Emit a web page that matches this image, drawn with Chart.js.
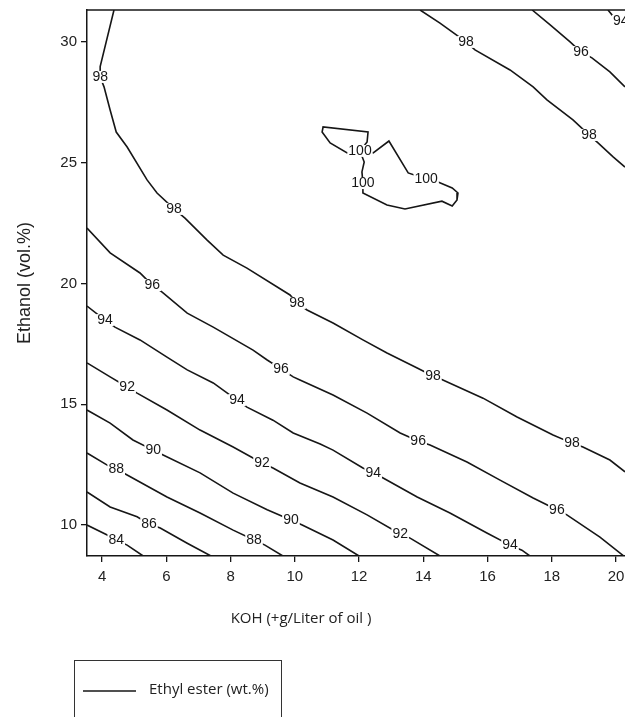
<!DOCTYPE html>
<html>
<head>
<meta charset="utf-8">
<script src="https://cdn.jsdelivr.net/npm/chart.js@4.4.0/dist/chart.umd.min.js"></script>
<style>
  html, body { margin: 0; padding: 0; background: #fff; }
  #wrap { width: 625px; height: 717px; }
</style>
</head>
<body>
<div id="wrap"><canvas id="chart" width="625" height="717"></canvas></div>
<script>
// Response surface: ethyl ester yield vs KOH and ethanol
// Each contour is a list of [KOH g/L, ethanol vol.%] points
const seriesName = "Ethyl ester (wt.%)";
const kohTicks = [4, 6, 8, 10, 12, 14, 16, 18, 20];
const ethanolTicks = [10, 15, 20, 25, 30];

const line84 = [[3.53, 10.00], [4.16, 9.59], [4.44, 9.38], [4.78, 9.17], [5.28, 8.72]];
const tags84 = [[4.44, 9.38]];

const line86 = [[3.53, 11.37], [4.25, 10.75], [5.09, 10.34], [5.46, 10.04], [5.81, 9.88], [6.65, 9.25], [7.39, 8.72]];
const tags86 = [[5.46, 10.04]];

const line88 = [[3.53, 12.98], [4.16, 12.48], [4.44, 12.32], [4.78, 12.07], [6.02, 11.16], [7.05, 10.50],
  [8.08, 9.79], [8.73, 9.38], [9.07, 9.17], [9.63, 8.72]];
const tags88 = [[4.44, 12.32], [8.73, 9.38]];

const line90 = [[3.53, 14.76], [4.25, 14.22], [4.96, 13.52], [5.59, 13.10], [5.90, 12.90], [7.05, 12.16],
  [8.08, 11.32], [9.14, 10.63], [9.88, 10.21], [10.23, 10.00], [11.19, 9.38], [12.00, 8.72]];
const tags90 = [[5.59, 13.10], [9.88, 10.21]];

const line92 = [[3.53, 16.71], [4.25, 16.13], [4.78, 15.71], [5.09, 15.46], [6.02, 14.76], [7.05, 13.93],
  [8.08, 13.23], [8.98, 12.57], [9.32, 12.36], [10.16, 11.74], [11.19, 11.16], [12.25, 10.42],
  [13.28, 9.63], [13.59, 9.46], [14.52, 8.72]];
const tags92 = [[4.78, 15.71], [8.98, 12.57], [13.28, 9.63]];

const line94 = [[3.53, 19.06], [4.09, 18.48], [4.40, 18.19], [5.18, 17.66], [6.02, 16.95], [6.65, 16.42],
  [7.46, 15.88], [8.20, 15.17], [8.51, 14.88], [9.32, 14.34], [9.95, 13.81], [10.79, 13.35],
  [11.19, 13.10], [12.12, 12.36], [12.44, 12.16], [12.75, 11.95], [13.81, 11.16], [14.83, 10.50],
  [15.98, 9.67], [16.70, 9.17], [17.07, 8.96], [17.32, 8.72]];
const tags94 = [[4.09, 18.48], [8.20, 15.17], [12.44, 12.16], [16.70, 9.17]];

const line96 = [[3.53, 22.29], [4.25, 21.26], [5.18, 20.43], [5.56, 19.93], [5.87, 19.64], [6.65, 18.77],
  [7.46, 18.19], [8.70, 17.24], [9.14, 16.83], [9.57, 16.46], [9.95, 16.13], [10.16, 16.00],
  [11.19, 15.38], [12.25, 14.63], [13.28, 13.81], [13.84, 13.48], [14.21, 13.31], [15.36, 12.61],
  [16.39, 11.86], [17.42, 11.12], [18.16, 10.63], [18.47, 10.42], [19.50, 9.50], [20.28, 8.68]];
const tags96 = [[5.56, 19.93], [9.57, 16.46], [13.84, 13.48], [18.16, 10.63]];

const line98 = [[4.37, 31.31], [3.94, 28.97], [3.94, 28.54], [4.06, 28.13], [4.25, 27.17], [4.44, 26.26],
  [4.78, 25.64], [5.40, 24.28], [5.71, 23.74], [6.24, 23.08], [6.58, 22.70], [7.27, 21.79],
  [7.77, 21.17], [8.51, 20.63], [9.85, 19.52], [10.07, 19.19], [10.38, 18.90], [11.19, 18.36],
  [12.12, 17.66], [12.87, 17.12], [13.81, 16.50], [14.30, 16.17], [14.61, 16.00], [15.86, 15.25],
  [16.92, 14.47], [18.04, 13.73], [18.63, 13.39], [18.97, 13.23], [19.81, 12.69], [20.28, 12.20]];
const tags98 = [[3.94, 28.54], [6.24, 23.08], [10.07, 19.19], [14.30, 16.17], [18.63, 13.39]];

// second branch of the 98, 96 and 94 levels, upper right corner
const line98b = [[13.90, 31.31], [14.52, 30.77], [15.33, 29.99], [15.61, 29.66], [16.70, 28.83],
  [17.42, 28.13], [17.85, 27.59], [18.66, 26.76], [19.16, 26.14], [19.44, 25.81], [19.91, 25.23], [20.28, 24.81]];
const tags98b = [[15.33, 29.99], [19.16, 26.14]];

const line96b = [[17.39, 31.31], [17.95, 30.69], [18.57, 29.99], [18.91, 29.57], [19.25, 29.33],
  [19.81, 28.75], [20.28, 28.13]];
const tags96b = [[18.91, 29.57]];

const line94b = [[19.75, 31.31], [19.88, 31.10], [20.15, 30.86], [20.40, 30.50]];
const tags94b = [[20.15, 30.86]];

// closed 100 region
const line100 = [[12.03, 25.48], [12.25, 25.85], [12.28, 26.26], [10.88, 26.47], [10.85, 26.26],
  [11.10, 25.81], [11.63, 25.40], [12.03, 25.48], [12.44, 25.40], [12.93, 25.89], [13.53, 24.57],
  [14.09, 24.32], [14.46, 24.19], [14.90, 23.95], [15.08, 23.74], [15.05, 23.45], [14.90, 23.20],
  [14.58, 23.40], [13.43, 23.08], [12.87, 23.24], [12.12, 23.74], [12.12, 24.15], [12.09, 24.61],
  [12.16, 25.02], [12.03, 25.48]];
const tags100 = [[12.03, 25.48], [14.09, 24.32], [12.12, 24.15]];

const contours = [
  { level: 84, pts: line84, tags: tags84 },
  { level: 86, pts: line86, tags: tags86 },
  { level: 88, pts: line88, tags: tags88 },
  { level: 90, pts: line90, tags: tags90 },
  { level: 92, pts: line92, tags: tags92 },
  { level: 94, pts: line94, tags: tags94 },
  { level: 96, pts: line96, tags: tags96 },
  { level: 98, pts: line98, tags: tags98 },
  { level: 98, pts: line98b, tags: tags98b },
  { level: 96, pts: line96b, tags: tags96b },
  { level: 94, pts: line94b, tags: tags94b },
  { level: 100, pts: line100, tags: tags100 },
];

const ink = "#161616";
const tickFont = { family: "'Liberation Sans', Arial, sans-serif", size: 15 };

// contour labels, frame, axis titles and legend box
const decorations = {
  id: "decorations",
  afterDatasetsDraw(chart) {
    const ctx = chart.ctx;
    const xs = chart.scales.x, ys = chart.scales.y;
    ctx.save();
    ctx.font = "14px 'Liberation Sans', Arial, sans-serif";
    ctx.textAlign = "center";
    ctx.textBaseline = "middle";
    contours.forEach(function (c) {
      const txt = String(c.level);
      const w = ctx.measureText(txt).width;
      c.tags.forEach(function (t) {
        const px = xs.getPixelForValue(t[0]);
        const py = ys.getPixelForValue(t[1]);
        ctx.fillStyle = "#fff";
        ctx.fillRect(px - w / 2 - 1, py - 6, w + 2, 12);
        ctx.fillStyle = ink;
        ctx.fillText(txt, px, py + 0.5);
      });
    });
    ctx.restore();
  },
  afterDraw(chart) {
    const ctx = chart.ctx;
    const a = chart.chartArea;
    ctx.save();

    // top edge of the frame
    ctx.strokeStyle = ink;
    ctx.lineWidth = 1.5;
    ctx.beginPath();
    ctx.moveTo(a.left, a.top);
    ctx.lineTo(a.right, a.top);
    ctx.stroke();

    // y title
    ctx.fillStyle = "#222";
    ctx.font = "18px 'Liberation Sans', Arial, sans-serif";
    ctx.textAlign = "center";
    ctx.textBaseline = "middle";
    ctx.save();
    ctx.translate(25, (a.top + a.bottom) / 2);
    ctx.rotate(-Math.PI / 2);
    ctx.fillText("Ethanol (vol.%)", 0, 0);
    ctx.restore();

    // x title
    ctx.font = "15px 'Open Sans', sans-serif";
    ctx.fillText("KOH (+g/Liter of oil )", a.left + 214, a.bottom + 63);

    // legend box
    ctx.strokeStyle = "#333";
    ctx.lineWidth = 1;
    ctx.strokeRect(74.5, 660.5, 207, 70);
    ctx.strokeStyle = ink;
    ctx.lineWidth = 1.4;
    ctx.beginPath();
    ctx.moveTo(83, 691);
    ctx.lineTo(136, 691);
    ctx.stroke();
    ctx.textAlign = "left";
    ctx.font = "15px 'Open Sans', sans-serif";
    ctx.fillText(seriesName, 149, 690);

    ctx.restore();
  },
};

new Chart(document.getElementById("chart"), {
  type: "scatter",
  data: {
    datasets: contours.map(function (c) {
      return {
        label: seriesName,
        data: c.pts.map(function (p) { return { x: p[0], y: p[1] }; }),
        showLine: true,
        pointRadius: 0,
        borderColor: ink,
        borderWidth: 1.6,
        tension: 0,
        fill: false,
      };
    }),
  },
  options: {
    responsive: false,
    animation: false,
    devicePixelRatio: 1,
    layout: { padding: { top: 10, right: 0, left: 0, bottom: 0 } },
    plugins: { legend: { display: false }, tooltip: { enabled: false } },
    scales: {
      x: {
        type: "linear",
        min: 3.53,
        max: 20.28,
        afterBuildTicks: function (s) { s.ticks = kohTicks.map(function (v) { return { value: v }; }); },
        afterFit: function (s) { s.height = 161; s.paddingLeft = 0; s.paddingRight = 0; },
        grid: { drawOnChartArea: false, drawTicks: true, tickLength: 6, color: ink, lineWidth: 1.3 },
        border: { display: true, color: ink, width: 1.5 },
        ticks: { font: tickFont, color: "#222", padding: 6, maxRotation: 0, autoSkip: false },
      },
      y: {
        type: "linear",
        min: 8.72,
        max: 31.31,
        afterBuildTicks: function (s) { s.ticks = ethanolTicks.map(function (v) { return { value: v }; }); },
        afterFit: function (s) { s.width = 87; s.paddingTop = 0; s.paddingBottom = 0; },
        grid: { drawOnChartArea: false, drawTicks: true, tickLength: 6, color: ink, lineWidth: 1.3 },
        border: { display: true, color: ink, width: 1.5 },
        ticks: { font: tickFont, color: "#222", padding: 4, autoSkip: false },
      },
    },
  },
  plugins: [decorations],
});
</script>
</body>
</html>
